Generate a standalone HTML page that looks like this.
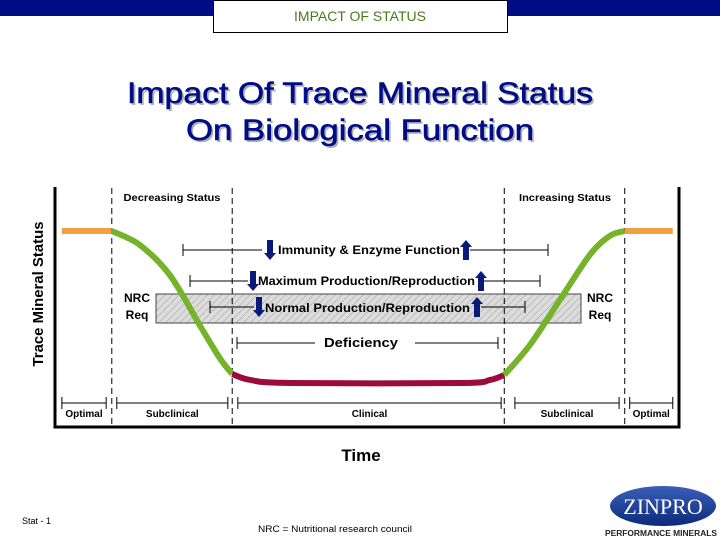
<!DOCTYPE html>
<html><head><meta charset="utf-8"><style>
body{margin:0;width:720px;height:540px;background:#fff;overflow:hidden;font-family:"Liberation Sans",Arial,sans-serif}
svg text{font-family:"Liberation Sans",Arial,sans-serif}
</style></head><body>
<svg id="c" width="720" height="540" viewBox="0 0 720 540">
<defs>
<pattern id="hatch" width="5" height="5" patternUnits="userSpaceOnUse" patternTransform="rotate(45)">
<rect width="5" height="5" fill="#dcdcdc"/><line x1="0" y1="0" x2="0" y2="5" stroke="#a8a8a8" stroke-width="1.2"/></pattern>
<linearGradient id="oval" x1="0" y1="0" x2="0" y2="1"><stop offset="0" stop-color="#3a5fb8"/><stop offset="1" stop-color="#0c2a7a"/></linearGradient>
</defs>
<rect x="0" y="0" width="720" height="16" fill="#000d87"/>
<rect x="213.5" y="0.5" width="294" height="32" fill="#fff" stroke="#000"/>
<text x="360" y="21" text-anchor="middle" font-size="14" fill="#4c7a1c">IMPACT OF STATUS</text>
<g font-size="30" text-anchor="middle">
<text x="362" y="105" fill="#b0b0b0" textLength="466" lengthAdjust="spacingAndGlyphs">Impact Of Trace Mineral Status</text>
<text x="360" y="103" fill="#000d87" stroke="#000d87" stroke-width="0.6" textLength="466" lengthAdjust="spacingAndGlyphs">Impact Of Trace Mineral Status</text>
<text x="362" y="142" fill="#b0b0b0" textLength="348" lengthAdjust="spacingAndGlyphs">On Biological Function</text>
<text x="360" y="140" fill="#000d87" stroke="#000d87" stroke-width="0.6" textLength="348" lengthAdjust="spacingAndGlyphs">On Biological Function</text>
</g>
<g id="plot"></g>
<text x="43" y="294" transform="rotate(-90 43 294)" text-anchor="middle" font-size="15" font-weight="bold" fill="#000" textLength="145" lengthAdjust="spacingAndGlyphs">Trace Mineral Status</text>
<text x="361" y="461" text-anchor="middle" font-size="17" font-weight="bold" fill="#000">Time</text>
<text x="22" y="524" font-size="9" fill="#000">Stat - 1</text>
<text x="335" y="532" text-anchor="middle" font-size="9" fill="#000" textLength="154" lengthAdjust="spacingAndGlyphs">NRC = Nutritional research council</text>
<g>
<ellipse cx="663" cy="506" rx="53" ry="20" fill="url(#oval)"/>
<text x="663" y="514" text-anchor="middle" font-size="22" fill="#fff" style="font-family:'Liberation Serif',serif">ZINPRO</text>
<text x="661" y="536" text-anchor="middle" font-size="8" font-weight="bold" fill="#222" textLength="112" lengthAdjust="spacingAndGlyphs">PERFORMANCE MINERALS</text>
</g>
</svg>
<script>
const phaseLabels=["Optimal","Subclinical","Clinical","Subclinical","Optimal"];
const phaseStart=[1.1,9.9,29.3,73.7,92.1];
const phaseEnd=[8.2,27.7,71.5,90.4,99];
const dividers=[9.1,28.4,72.0,91.3];
const orangeL_t=[1.1,9.1];const orangeL_s=[100,100];
const greenL_t=[9.1,13.6,18.4,23.2,26.4,28.4];const greenL_s=[100,90.8,71,38,16.4,5.9];
const red_t=[28.4,31.3,37.7,64.9,69.7,72.0];const red_s=[5.9,2,0,0,2,5.3];
const greenR_t=[72.0,76.1,80.9,85.7,88.9,91.3];const greenR_s=[5.3,25,54.6,84.2,96.7,100];
const orangeR_t=[91.3,99];const orangeR_s=[100,100];
const X=t=>55+t*6.24;
const Y=s=>383-1.52*s;
const NS="http://www.w3.org/2000/svg";
const g=document.getElementById('plot');
function mk(tag,attrs,parent){const e=document.createElementNS(NS,tag);for(const k in attrs)e.setAttribute(k,attrs[k]);(parent||g).appendChild(e);return e;}
function txt(x,y,s,size,len,anchor){const a={x:x,y:y,'font-size':size,'font-weight':'bold','text-anchor':anchor||'middle',fill:'#000'};
 if(len){a.textLength=len;a.lengthAdjust='spacingAndGlyphs';}
 const e=mk('text',a);e.textContent=s;return e;}
let e=mk('path',{d:'M55,187 V427 H679 V187',fill:'none',stroke:'#000','stroke-width':3});


e=mk('rect',{x:156,y:294,width:425,height:29,fill:'url(#hatch)',stroke:'#444','stroke-width':1});


dividers.forEach(d=>{
 const l=mk('line',{x1:X(d),y1:188,x2:X(d),y2:426,stroke:'#000','stroke-width':1,'stroke-dasharray':'6,4'});
 
 
});
txt(172,201,'Decreasing Status',10,97);
txt(565,201,'Increasing Status',10,92);
function hline(x1,x2,y,tickL,tickR){mk('line',{x1:x1,y1:y,x2:x2,y2:y,stroke:'#000','stroke-width':1});
 if(tickL)mk('line',{x1:x1,y1:y-6,x2:x1,y2:y+6,stroke:'#000'});
 if(tickR)mk('line',{x1:x2,y1:y-6,x2:x2,y2:y+6,stroke:'#000'});}
function arrow(x,y,down){const w=3,h=20,hw=6,hh=7;let d;
 if(down)d=`M${x-w},${y-h/2} h${2*w} v${h-hh} h${hw-w} l${-hw},${hh} l${-hw},${-hh} h${hw-w} z`;
 else d=`M${x-w},${y+h/2} h${2*w} v${-(h-hh)} h${hw-w} l${-hw},${-hh} l${-hw},${hh} h${hw-w} z`;
 const a=mk('path',{d:d,fill:'#0a1a78'});}
hline(183,262,250,true,false);hline(470,548,250,false,true);
arrow(270,250,true);txt(369,254,'Immunity & Enzyme Function',12,182);arrow(466,250,false);
hline(190,248,281,true,false);hline(484,540,281,false,true);
arrow(253,281,true);txt(366.5,285,'Maximum Production/Reproduction',12,217);arrow(481,281,false);
hline(210,254,307,true,false);hline(481,525,307,false,true);
arrow(259,307,true);txt(367.5,312,'Normal Production/Reproduction',12,205);arrow(477,307,false);
hline(237,315,343,true,false);hline(415,498,343,false,true);
txt(361,347,'Deficiency',13,74);
txt(137,302,'NRC',12);txt(137,319,'Req',12);
txt(600,302,'NRC',12);txt(600,319,'Req',12);
function smooth(ts,ss){const p=ts.map((t,i)=>[X(t),Y(ss[i])]);let d=`M${p[0][0]},${p[0][1]}`;
 for(let i=0;i<p.length-1;i++){const p0=p[i-1]||p[i],p1=p[i],p2=p[i+1],p3=p[i+2]||p2;
 d+=` C${p1[0]+(p2[0]-p0[0])/6},${p1[1]+(p2[1]-p0[1])/6} ${p2[0]-(p3[0]-p1[0])/6},${p2[1]-(p3[1]-p1[1])/6} ${p2[0]},${p2[1]}`;}return d;}
[[orangeL_t,orangeL_s,'#f0a040','optimal-left-segment'],[greenL_t,greenL_s,'#74b32a','subclinical-left-segment'],[red_t,red_s,'#9b0b3e','clinical-segment'],[greenR_t,greenR_s,'#74b32a','subclinical-right-segment'],[orangeR_t,orangeR_s,'#f0a040','optimal-right-segment']].forEach(s=>{
 const p=mk('path',{d:smooth(s[0],s[1]),fill:'none',stroke:s[2],'stroke-width':6,'stroke-linecap':'butt'});
 
 
});
phaseLabels.forEach((lab,i)=>{
 hline(X(phaseStart[i]),X(phaseEnd[i]),403,true,true);
 const t=txt((X(phaseStart[i])+X(phaseEnd[i]))/2,417,lab,10);
 
 
});
</script>
</body></html>
